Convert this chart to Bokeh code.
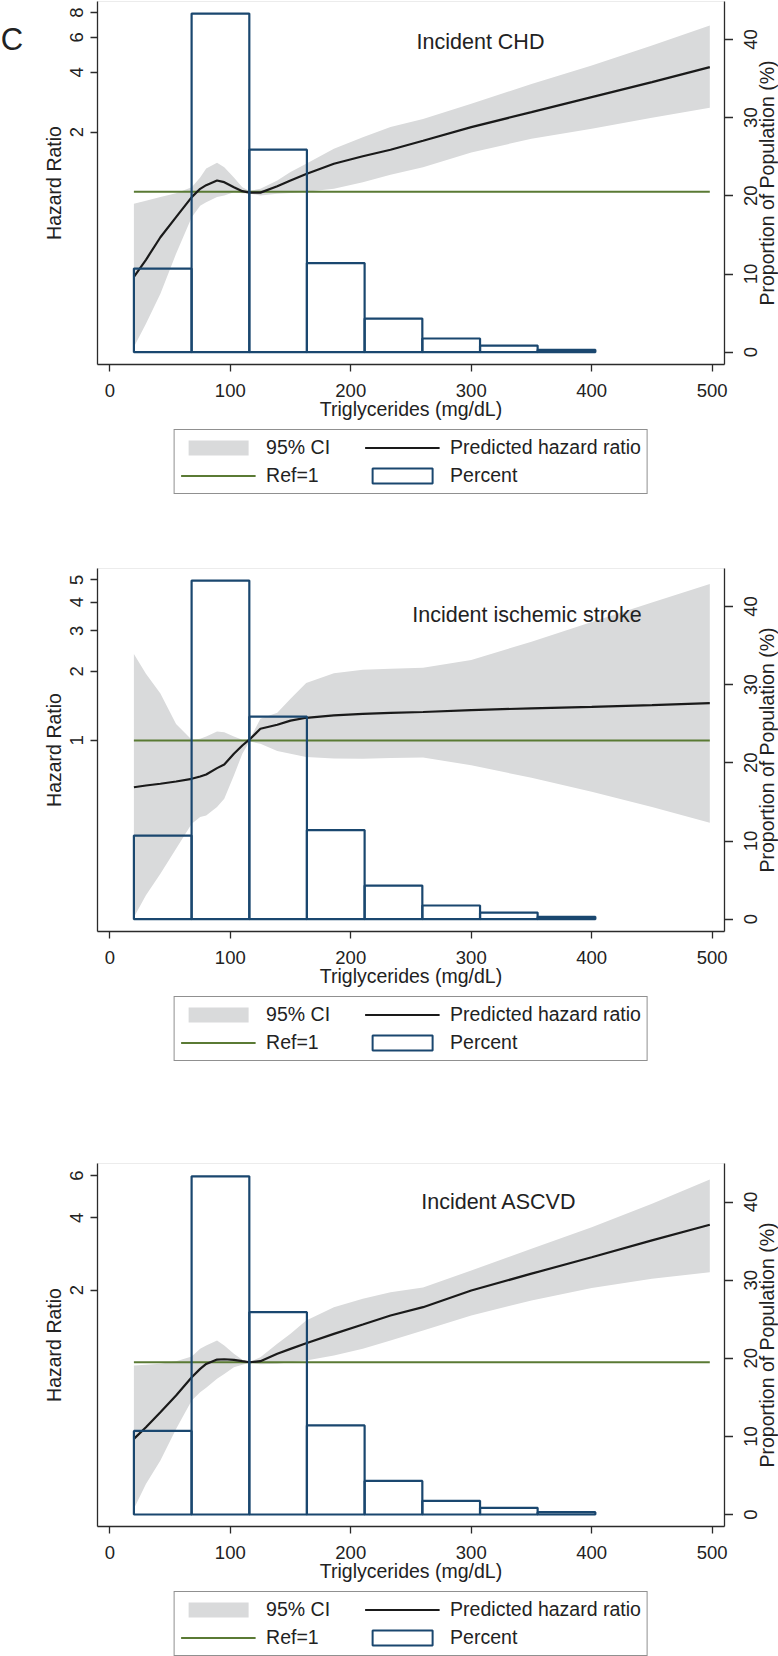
import math
from bokeh.plotting import figure
from bokeh.models import (Range1d, LinearScale, LinearAxis, FixedTicker, Legend, LegendItem, Label)
from bokeh.layouts import column, row
from bokeh.core.properties import value
from bokeh.embed import file_html
from bokeh.resources import INLINE

# ---------------- data ----------------
tg = [20, 30, 42, 55, 68, 75, 80, 89, 95, 103, 110, 116, 125, 139, 150, 163, 186, 210, 233,
      260, 300, 350, 400, 450, 498]

chd_hr = [0.372, 0.454, 0.59, 0.745, 0.94, 1.035, 1.08, 1.14, 1.118, 1.055, 1.007, 0.99, 0.99,
          1.067, 1.14, 1.23, 1.384, 1.51, 1.63, 1.81, 2.12, 2.52, 3.0, 3.57, 4.25]
chd_lo = [0.165, 0.216, 0.306, 0.487, 0.745, 0.85, 0.886, 0.94, 0.958, 0.995, 0.984, 0.98, 0.958,
          0.977, 0.985, 1.0, 1.035, 1.118, 1.22, 1.33, 1.58, 1.85, 2.08, 2.36, 2.65]
chd_hi = [0.87, 0.90, 0.94, 0.984, 1.055, 1.18, 1.31, 1.40, 1.33, 1.18, 1.055, 1.01, 1.035,
          1.14, 1.26, 1.384, 1.65, 1.885, 2.12, 2.33, 2.78, 3.50, 4.33, 5.47, 6.9]

stroke_hr = [0.626, 0.637, 0.648, 0.663, 0.681, 0.697, 0.711, 0.758, 0.786, 0.875, 0.951, 1.01,
             1.124, 1.17, 1.22, 1.255, 1.285, 1.306, 1.318, 1.33, 1.355, 1.38, 1.40, 1.425, 1.453]
stroke_lo = [0.170, 0.212, 0.263, 0.338, 0.434, 0.464, 0.472, 0.513, 0.557, 0.704, 0.875, 0.99,
             0.967, 0.90, 0.875, 0.847, 0.835, 0.832, 0.838, 0.843, 0.78, 0.688, 0.598, 0.513, 0.438]
stroke_hi = [2.38, 1.95, 1.60, 1.18, 1.007, 1.017, 1.041, 1.094, 1.087, 1.04, 1.007, 1.01,
             1.242, 1.32, 1.52, 1.78, 1.96, 2.03, 2.05, 2.07, 2.24, 2.69, 3.28, 3.98, 4.80]

ascvd_hr = [0.479, 0.536, 0.619, 0.726, 0.866, 0.938, 0.984, 1.026, 1.029, 1.023, 1.01, 1.0,
            1.01, 1.084, 1.137, 1.2, 1.313, 1.436, 1.566, 1.696, 1.99, 2.34, 2.74, 3.22, 3.74]
ascvd_lo = [0.245, 0.311, 0.389, 0.527, 0.692, 0.75, 0.782, 0.853, 0.894, 0.953, 0.975, 0.995,
            0.98, 0.985, 1.0, 1.016, 1.066, 1.137, 1.231, 1.356, 1.566, 1.808, 2.04, 2.23, 2.37]
ascvd_hi = [0.969, 0.975, 0.985, 1.01, 1.056, 1.137, 1.174, 1.231, 1.174, 1.084, 1.023, 1.003,
            1.049, 1.193, 1.313, 1.493, 1.696, 1.838, 1.958, 2.05, 2.41, 2.97, 3.65, 4.58, 5.78]

hist_edges = [20, 67.9, 115.8, 163.6, 211.5, 259.4, 307.3, 355.1, 403]
hist_pct = [10.7, 43.3, 25.9, 11.4, 4.3, 1.75, 0.85, 0.3]

x_ticks = [0, 100, 200, 300, 400, 500]
pct_ticks = [0, 10, 20, 30, 40]
chd_ticks = [2, 4, 6, 8]
stroke_ticks = [1, 2, 3, 4, 5]
ascvd_ticks = [2, 4, 6]

titles = ["Incident CHD", "Incident ischemic stroke", "Incident ASCVD"]
legend_labels = ["95% CI", "Ref=1", "Predicted hazard ratio", "Percent"]
x_title = "Triglycerides (mg/dL)"
hr_title = "Hazard Ratio"
pct_title = "Proportion of Population (%)"
panel_letter = "C"

# ---------------- styling / layout ----------------
FONT = "Liberation Sans"
BAND = "#d9dadb"
LINE = "#1a1a1a"
REF = "#5a7a34"
BAR = "#1a476f"
AX = "#2b2b2b"
TXT = "#222222"
X_RANGE = (-10.21, 510.2)
FRAME_W = 627
FRAME_H = 363
LEFT_W = 90      # left label strip
TICK_L = 7
TICK_R = 9
RIGHT_W = 45     # right label strip
BOTTOM = 63
LEG_H = 67

# positions (px within the label strips) of the centres of the rotated texts
L_TICK_X = 75.8
L_TITLE_X = 53.2
R_TICK_X = 16.5
R_TITLE_X = 33.5

panel_cfg = [
    dict(hr=chd_hr, lo=chd_lo, hi=chd_hi, ticks=chd_ticks, title=titles[0],
         yr=(0.1346, 9.111), pr=(-1.573, 44.85), top=1, tx=254.6, ty=39.64, letter_y=5.84),
    dict(hr=stroke_hr, lo=stroke_lo, hi=stroke_hi, ticks=stroke_ticks, title=titles[1],
         yr=(0.1475, 5.600), pr=(-1.573, 44.85), top=74, tx=251.0, ty=38.84, letter_y=None),
    dict(hr=ascvd_hr, lo=ascvd_lo, hi=ascvd_hi, ticks=ascvd_ticks, title=titles[2],
         yr=(0.2066, 6.737), pr=(-1.536, 44.94), top=102, tx=258.5, ty=39.99, letter_y=None),
]


def base_fig(**kw):
    f = figure(output_backend="svg", toolbar_location=None, title=None, **kw)
    f.outline_line_color = None
    f.background_fill_color = "white"
    f.border_fill_color = "white"
    return f


def style_axis(ax, tick_out):
    ax.axis_line_color = AX
    ax.axis_line_width = 1.3
    ax.major_tick_line_color = AX
    ax.major_tick_line_width = 1.3
    ax.major_tick_out = tick_out
    ax.major_tick_in = 0
    ax.minor_tick_line_color = None
    ax.major_label_text_font = FONT
    ax.major_label_text_font_size = "18.5px"
    ax.major_label_text_color = TXT
    ax.axis_label_text_font = FONT
    ax.axis_label_text_font_size = "19.5px"
    ax.axis_label_text_font_style = "normal"
    ax.axis_label_text_color = TXT


def legend_figure():
    q = base_fig(frame_width=FRAME_W, frame_height=LEG_H, x_range=Range1d(0, 1),
                 y_range=Range1d(0, 1), x_axis_location=None, y_axis_location=None,
                 min_border_left=LEFT_W + TICK_L, min_border_right=TICK_R + RIGHT_W,
                 min_border_top=0, min_border_bottom=0)
    q.grid.visible = False
    # legend keys only: one sample each, placed outside the visible range
    g_band = q.varea(x=[2, 3], y1=[2, 2], y2=[3, 3], fill_color=BAND, fill_alpha=1.0)
    g_ref = q.line(x=[2, 3], y=[2, 2], line_color=REF, line_width=2)
    g_line = q.line(x=[2, 3], y=[2, 2], line_color=LINE, line_width=2.2)
    g_bar = q.quad(left=[2], right=[3], top=[3], bottom=[2], fill_color=None, line_color=BAR,
                   line_width=2)
    legend = Legend(items=[LegendItem(label=legend_labels[0], renderers=[g_band]),
                           LegendItem(label=legend_labels[2], renderers=[g_line]),
                           LegendItem(label=legend_labels[1], renderers=[g_ref]),
                           LegendItem(label=legend_labels[3], renderers=[g_bar])],
                    location="top_center", orientation="horizontal", ncols=2)
    legend.label_text_font = FONT
    legend.label_text_font_size = "19.5px"
    legend.label_text_color = TXT
    legend.label_text_line_height = 1.0
    legend.label_height = 19
    legend.glyph_width = 75
    legend.glyph_height = 19
    legend.label_standoff = 11
    legend.label_width = 93
    legend.padding = 6
    legend.spacing = 5
    legend.margin = 2
    legend.border_line_color = TXT
    legend.border_line_width = 1.2
    legend.background_fill_color = "white"
    legend.background_fill_alpha = 1.0
    q.add_layout(legend, "center")
    return q


def text_kw(size):
    return dict(text_font=value(FONT), text_font_size=size, text_color=TXT)


items = []
for cfg in panel_cfg:
    vb = dict(frame_height=FRAME_H, min_border_top=cfg["top"], min_border_bottom=BOTTOM)

    # ----- main plot -----
    p = base_fig(frame_width=FRAME_W, y_axis_type="log",
                 x_range=Range1d(*X_RANGE), y_range=Range1d(*cfg["yr"]),
                 min_border_left=TICK_L, min_border_right=TICK_R, **vb)
    p.outline_line_color = "#ececec"
    p.extra_y_ranges = {"pct": Range1d(*cfg["pr"])}
    p.extra_y_scales = {"pct": LinearScale()}
    p.xgrid.visible = False
    p.ygrid.visible = False

    p.varea(x=tg, y1=cfg["lo"], y2=cfg["hi"], fill_color=BAND, fill_alpha=1.0)
    p.line(x=[tg[0], tg[-1]], y=[1, 1], line_color=REF, line_width=2)
    p.line(x=tg, y=cfg["hr"], line_color=LINE, line_width=2.2)
    p.quad(left=hist_edges[:-1], right=hist_edges[1:], top=hist_pct, bottom=0,
           y_range_name="pct", fill_color=None, line_color=BAR, line_width=2.2)

    xa = p.xaxis[0]
    xa.ticker = FixedTicker(ticks=x_ticks)
    xa.axis_label = x_title
    style_axis(xa, TICK_L)
    xa.major_label_standoff = 12
    xa.axis_label_standoff = -2

    ya = p.yaxis[0]
    ya.ticker = FixedTicker(ticks=cfg["ticks"])
    style_axis(ya, TICK_L)
    ya.major_label_overrides = {t: "" for t in cfg["ticks"]}
    ya.major_label_standoff = 0

    ra = LinearAxis(y_range_name="pct", ticker=FixedTicker(ticks=pct_ticks))
    style_axis(ra, TICK_R)
    ra.major_label_overrides = {t: "" for t in pct_ticks}
    ra.major_label_standoff = 0
    p.add_layout(ra, "right")

    p.add_layout(Label(x=cfg["tx"], y=cfg["ty"], y_range_name="pct", text=cfg["title"],
                       text_font=FONT, text_font_size="21.5px", text_color=TXT,
                       text_baseline="alphabetic", text_align="left"))

    # ----- left strip: hazard-ratio tick labels + title (same log scale) -----
    lf = base_fig(frame_width=LEFT_W, x_range=Range1d(0, LEFT_W), y_range=Range1d(*cfg["yr"]),
                  y_axis_type="log", x_axis_location=None, y_axis_location=None,
                  min_border_left=0, min_border_right=0, **vb)
    lf.grid.visible = False
    lf.text(x=[L_TICK_X] * len(cfg["ticks"]), y=cfg["ticks"], text=[str(t) for t in cfg["ticks"]],
            angle=math.pi / 2, text_align="center", text_baseline="middle",
            **text_kw("18.5px"))
    lf.text(x=[L_TITLE_X], y=[math.sqrt(cfg["yr"][0] * cfg["yr"][1])], text=[hr_title],
            angle=math.pi / 2, text_align="center", text_baseline="middle",
            **text_kw("19.5px"))
    if cfg["letter_y"] is not None:
        lf.text(x=[0.3], y=[cfg["letter_y"]], text=[panel_letter], text_align="left",
                text_baseline="alphabetic", **text_kw("31px"))

    # ----- right strip: percent tick labels + title (same linear scale) -----
    rf = base_fig(frame_width=RIGHT_W, x_range=Range1d(0, RIGHT_W), y_range=Range1d(*cfg["pr"]),
                  x_axis_location=None, y_axis_location=None,
                  min_border_left=0, min_border_right=0, **vb)
    rf.grid.visible = False
    rf.text(x=[R_TICK_X] * len(pct_ticks), y=pct_ticks, text=[str(t) for t in pct_ticks],
            angle=math.pi / 2, text_align="center", text_baseline="middle",
            **text_kw("18.5px"))
    rf.text(x=[R_TITLE_X], y=[(cfg["pr"][0] + cfg["pr"][1]) / 2], text=[pct_title],
            angle=math.pi / 2, text_align="center", text_baseline="middle",
            **text_kw("19.5px"))

    items.append(row(lf, p, rf, spacing=0))
    items.append(legend_figure())

layout = column(*items, spacing=0)
open("out.html", "w").write(file_html(layout, INLINE))
